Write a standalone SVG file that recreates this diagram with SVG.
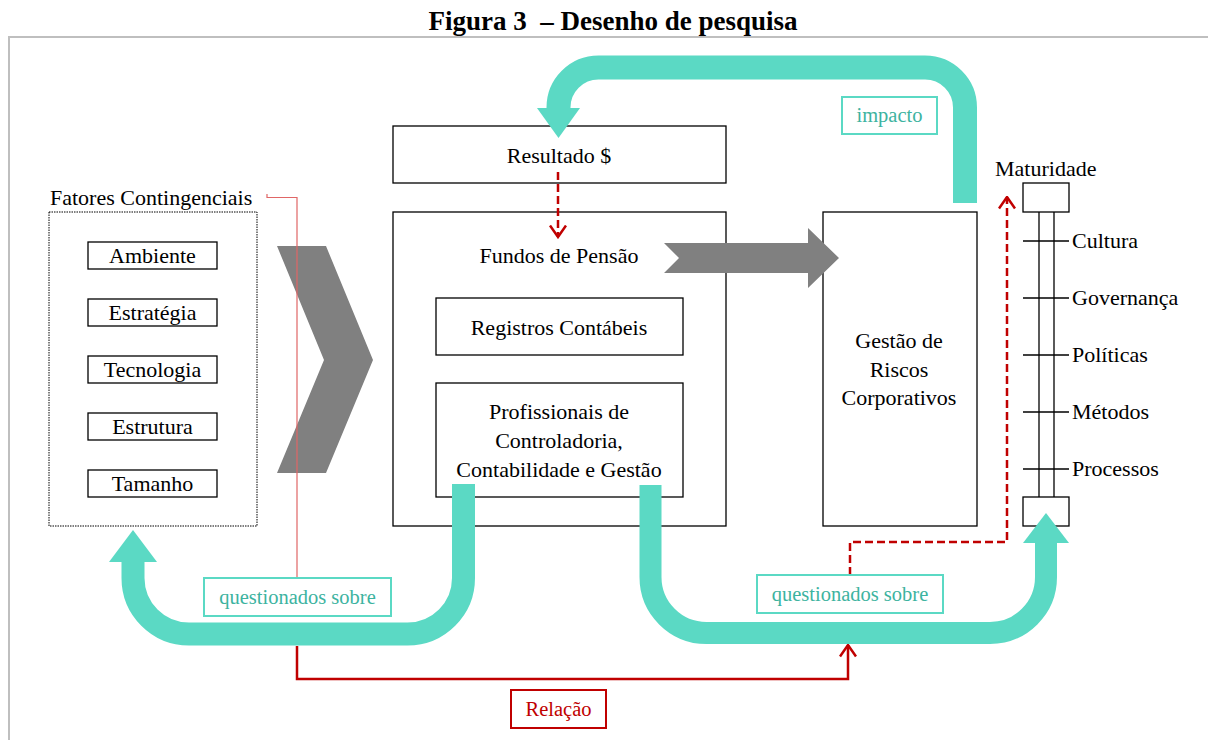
<svg xmlns="http://www.w3.org/2000/svg" width="1208" height="740" viewBox="0 0 1208 740">
<style>
text{font-family:"Liberation Serif","Times New Roman",serif;font-size:22px;fill:#000}
.c{text-anchor:middle}
.box{fill:#fff;stroke:#000;stroke-width:1.3}
.tl{fill:#fff;stroke:#5BD9C4;stroke-width:2}
.tt{fill:#3DB3A0;font-size:20.5px}
.band{fill:none;stroke:#5BD9C4}
.head{fill:#5BD9C4}
.red{fill:none;stroke:#C00000;stroke-width:2.5}
.dash{stroke-dasharray:8 4}
.tick{stroke:#000;stroke-width:1.3}
</style>
<defs>
<marker id="open" viewBox="0 0 14 18" refX="12.5" refY="9" markerWidth="14" markerHeight="18" markerUnits="userSpaceOnUse" orient="auto">
<path d="M1,1 L12.5,9 L1,17" fill="none" stroke="#C00000" stroke-width="2.5"/>
</marker>
</defs>
<path d="M9,740 V37 H1208" fill="none" stroke="#BFBFBF" stroke-width="2"/>
<text x="613" y="30" class="c" style="font-weight:bold;font-size:27px" xml:space="preserve">Figura 3  – Desenho de pesquisa</text>

<g id="fatores">
<text x="50" y="205">Fatores Contingenciais</text>
<rect x="49" y="212" width="208" height="314" fill="#fff" stroke="#000" stroke-width="1" stroke-dasharray="1.5 1"/>
<g id="ambiente"><rect class="box" x="88" y="242" width="129" height="27"/><text class="c" x="152.5" y="263">Ambiente</text></g>
<g id="estrategia"><rect class="box" x="88" y="299" width="129" height="27"/><text class="c" x="152.5" y="320">Estratégia</text></g>
<g id="tecnologia"><rect class="box" x="88" y="356" width="129" height="27"/><text class="c" x="152.5" y="377">Tecnologia</text></g>
<g id="estrutura"><rect class="box" x="88" y="413" width="129" height="27"/><text class="c" x="152.5" y="434">Estrutura</text></g>
<g id="tamanho"><rect class="box" x="88" y="470" width="129" height="27"/><text class="c" x="152.5" y="491">Tamanho</text></g>
</g>

<g id="chevron"><polygon points="277,246 326,246 373,360 326,473 277,473 324,360" fill="#808080"/></g>

<g id="resultado"><rect class="box" x="393" y="126" width="333" height="57"/><text class="c" x="559" y="163">Resultado $</text></g>
<g id="fundos">
<rect class="box" x="393" y="212" width="333" height="314"/>
<text class="c" x="559" y="263">Fundos de Pensão</text>
</g>
<g id="registros"><rect class="box" x="436" y="298" width="247" height="57"/><text class="c" x="559" y="335">Registros Contábeis</text></g>
<g id="profissionais"><rect class="box" x="436" y="383" width="247" height="114"/>
<text class="c" x="559" y="419">Profissionais de</text>
<text class="c" x="559" y="448">Controladoria,</text>
<text class="c" x="559" y="477">Contabilidade e Gestão</text></g>

<g id="gestao"><rect class="box" x="823" y="212" width="154" height="314"/>
<text class="c" x="899" y="348">Gestão de</text>
<text class="c" x="899" y="377">Riscos</text>
<text class="c" x="899" y="405">Corporativos</text></g>

<g id="maturidade">
<text x="995" y="176">Maturidade</text>
<rect class="box" x="1023" y="183" width="46" height="29"/>
<line class="tick" x1="1039" y1="212" x2="1039" y2="497"/>
<line class="tick" x1="1054" y1="212" x2="1054" y2="497"/>
<rect class="box" x="1023" y="497" width="46" height="29"/>
<line class="tick" x1="1023" y1="241" x2="1069" y2="241"/><text x="1072" y="248">Cultura</text>
<line class="tick" x1="1023" y1="298" x2="1069" y2="298"/><text x="1072" y="305">Governança</text>
<line class="tick" x1="1023" y1="355" x2="1069" y2="355"/><text x="1072" y="362">Políticas</text>
<line class="tick" x1="1023" y1="412" x2="1069" y2="412"/><text x="1072" y="419">Métodos</text>
<line class="tick" x1="1023" y1="469" x2="1069" y2="469"/><text x="1072" y="476">Processos</text>
</g>

<g id="connectors">
<polygon points="664,243 808,243 808,228 839,258 808,288 808,273 664,273 679,258" fill="#808080"/>
<path d="M267,194 V197.5 H297 V578" fill="none" stroke="#E06666" stroke-width="1.2"/>
<path class="band" stroke-width="24" d="M965,203 V107.5 A40,40 0 0 0 925,67.5 H598.5 A40,40 0 0 0 558.5,107.5 V109"/>
<polygon class="head" points="537,108 580,108 558.5,138"/>
<path class="band" stroke-width="23" d="M463.5,484 V578 A56,56 0 0 1 407.5,634 H189 A56,56 0 0 1 133,578 V561"/>
<polygon class="head" points="109,562 157,562 133,530"/>
<path class="band" stroke-width="22" d="M650.5,485 V577 A56,56 0 0 0 706.5,633 H990 A56,56 0 0 0 1046,577 V542"/>
<polygon class="head" points="1023,543 1069,543 1046,513"/>
<path class="red dash" d="M558,172 V237" marker-end="url(#open)"/>
<path class="red dash" d="M850,575 V542 H1007 V197" marker-end="url(#open)"/>
<path class="red" d="M297,646 V679 H848 V645" marker-end="url(#open)"/>
</g>

<g id="lbl-impacto"><rect class="tl" x="842" y="97" width="95" height="37"/><text class="c tt" x="889.5" y="122">impacto</text></g>
<g id="lbl-q1"><rect class="tl" x="204" y="578" width="187" height="38"/><text class="c tt" x="297.5" y="604">questionados sobre</text></g>
<g id="lbl-q2"><rect class="tl" x="757" y="575" width="186" height="38"/><text class="c tt" x="850" y="601">questionados sobre</text></g>
<g id="lbl-relacao"><rect x="511" y="690" width="95" height="38" fill="#fff" stroke="#C00000" stroke-width="2"/><text class="c" x="558.5" y="716" style="fill:#C00000;font-size:20.5px">Relação</text></g>
</svg>
